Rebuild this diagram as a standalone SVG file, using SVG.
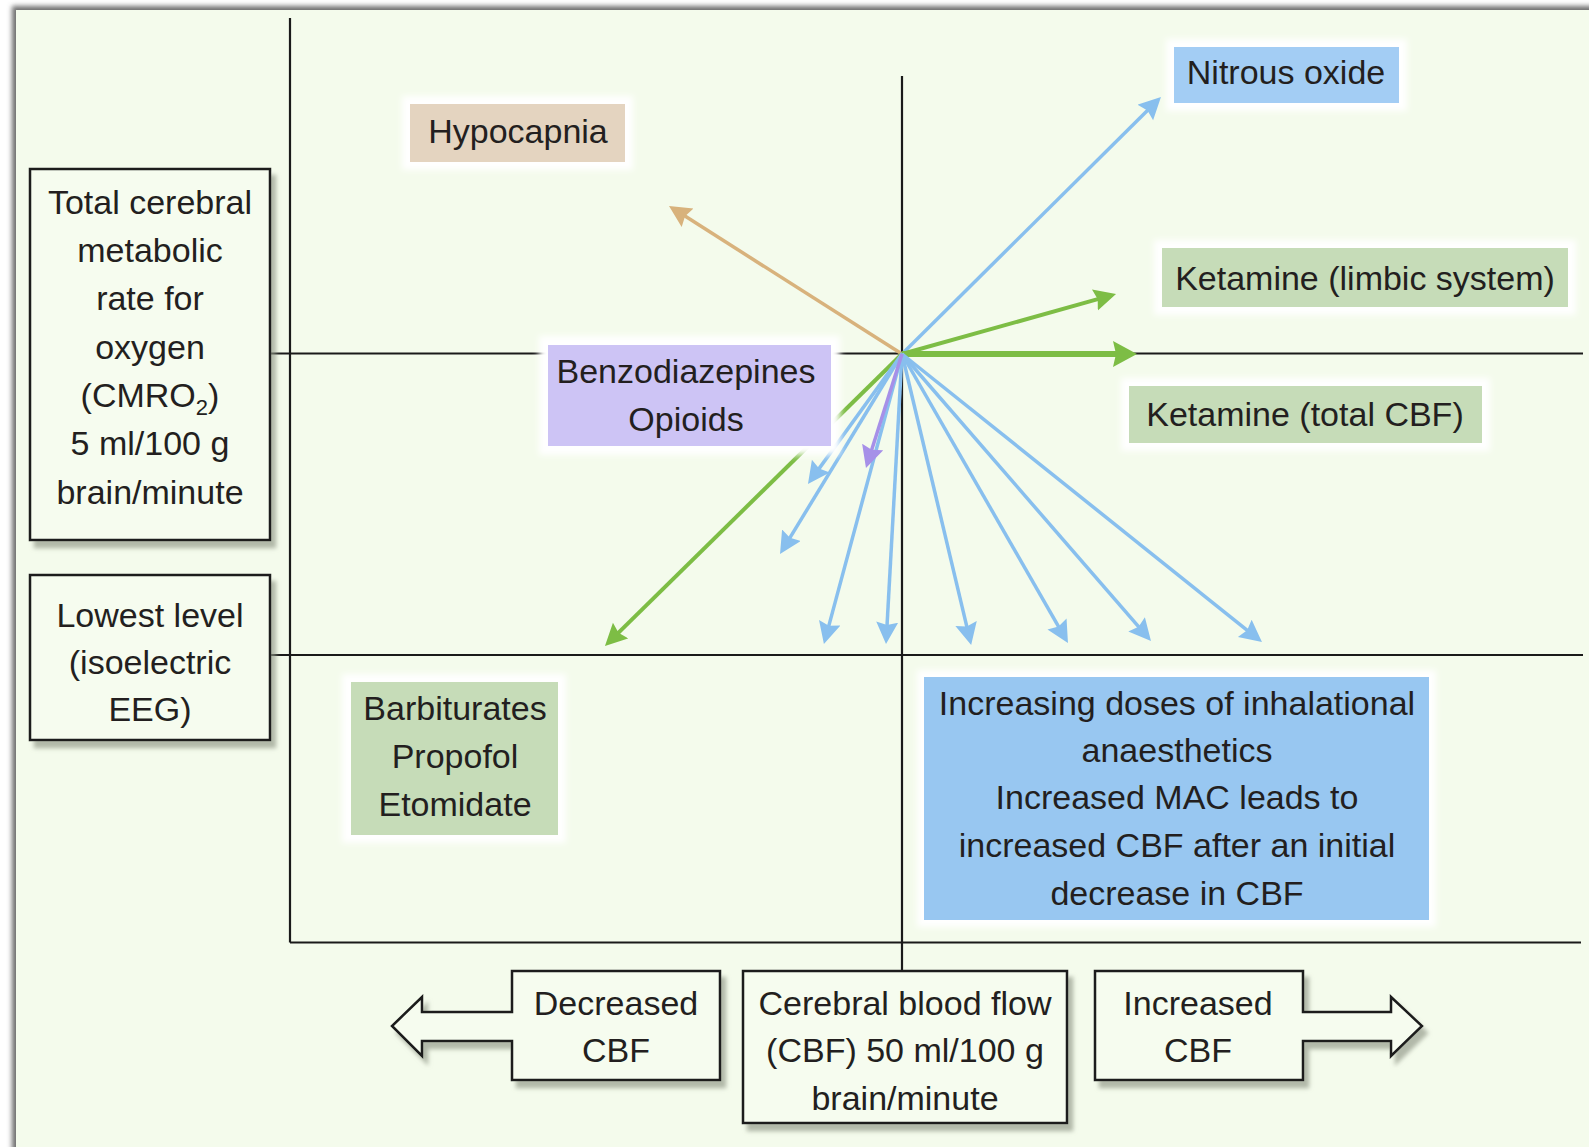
<svg xmlns="http://www.w3.org/2000/svg" width="1589" height="1147" viewBox="0 0 1589 1147">
<style>
  .t{font-family:"Liberation Sans",Arial,sans-serif;font-size:34px;fill:#231f20;text-anchor:middle}
  .ax{stroke:#1a1a1a;stroke-width:2.2;fill:none}
  .box{fill:#f6fcef;stroke:#1a1a1a;stroke-width:2.5}
  .halo{fill:#ffffff;filter:url(#blur3)}
  .blue{stroke:#88bfee;stroke-width:3.5;fill:none}
  .green{stroke:#7dbd45;stroke-width:4;fill:none}
  .tan{stroke:#d8b27c;stroke-width:3.5;fill:none}
  .purple{stroke:#a690e8;stroke-width:3.5;fill:none}
</style>
<defs>
  <filter id="blur3" x="-20%" y="-20%" width="140%" height="140%"><feGaussianBlur stdDeviation="3"/></filter>
  <filter id="frameblur" x="-5%" y="-5%" width="110%" height="110%"><feGaussianBlur stdDeviation="2.5"/></filter>
  <filter id="shadow" x="-10%" y="-10%" width="130%" height="130%">
    <feDropShadow dx="5" dy="7" stdDeviation="2" flood-color="#8e9585" flood-opacity="0.65"/>
  </filter>
  <marker id="mBlue" markerUnits="userSpaceOnUse" markerWidth="24" markerHeight="24" refX="4" refY="11" orient="auto">
    <path d="M0,0 L22,11 L0,22 L3,11 z" fill="#88bfee"/>
  </marker>
  <marker id="mTan" markerUnits="userSpaceOnUse" markerWidth="24" markerHeight="24" refX="4" refY="11" orient="auto">
    <path d="M0,0 L22,11 L0,22 L3,11 z" fill="#d8b27c"/>
  </marker>
  <marker id="mPurple" markerUnits="userSpaceOnUse" markerWidth="24" markerHeight="24" refX="4" refY="11" orient="auto">
    <path d="M0,0 L22,11 L0,22 L3,11 z" fill="#a690e8"/>
  </marker>
  <marker id="mGreen" markerUnits="userSpaceOnUse" markerWidth="24" markerHeight="24" refX="4" refY="11" orient="auto">
    <path d="M0,0 L22,11 L0,22 L3,11 z" fill="#7dbd45"/>
  </marker>
  <marker id="mGreenBig" markerUnits="userSpaceOnUse" markerWidth="26" markerHeight="28" refX="4" refY="13" orient="auto">
    <path d="M0,0 L24,13 L0,26 L3,13 z" fill="#7dbd45"/>
  </marker>
</defs>

<!-- frame -->
<rect x="0" y="0" width="1589" height="1147" fill="#ffffff"/>
<rect x="12" y="6" width="1600" height="1160" fill="#6e6e6e" filter="url(#frameblur)"/>
<rect x="16" y="10" width="1600" height="1160" fill="#f4fbec"/>

<!-- axes -->
<g id="axes">
  <line class="ax" x1="290" y1="18" x2="290" y2="942.5"/>
  <line class="ax" x1="270" y1="353.5" x2="1583" y2="353.5"/>
  <line class="ax" x1="270" y1="655" x2="1583" y2="655"/>
  <line class="ax" x1="290" y1="942.5" x2="1581" y2="942.5"/>
  <line class="ax" x1="902" y1="76" x2="902" y2="971"/>
</g>

<!-- connectors -->
<g id="connectors">
  <line class="tan" x1="902" y1="354" x2="684.2" y2="215.6" marker-end="url(#mTan)"/>
  <line class="blue" x1="902" y1="354" x2="1148.2" y2="109.7" marker-end="url(#mBlue)"/>
  <line class="green" x1="902" y1="354" x2="1098.7" y2="298.9" marker-end="url(#mGreen)"/>
  <line class="green" style="stroke-width:6" x1="902" y1="354" x2="1117" y2="354" marker-end="url(#mGreenBig)"/>
  <line class="green" x1="902" y1="354" x2="617.8" y2="633.4" marker-end="url(#mGreen)"/>
  <line class="blue" x1="902" y1="354" x2="818.5" y2="469.4" marker-end="url(#mBlue)"/>
  <line class="blue" x1="902" y1="354" x2="789.4" y2="538.6" marker-end="url(#mBlue)"/>
  <line class="blue" x1="902" y1="354" x2="828.6" y2="626.6" marker-end="url(#mBlue)"/>
  <line class="blue" x1="902" y1="354" x2="887" y2="626" marker-end="url(#mBlue)"/>
  <line class="blue" x1="902" y1="354" x2="967" y2="627.4" marker-end="url(#mBlue)"/>
  <line class="blue" x1="902" y1="354" x2="1059" y2="627.4" marker-end="url(#mBlue)"/>
  <line class="blue" x1="902" y1="354" x2="1139.2" y2="627.4" marker-end="url(#mBlue)"/>
  <line class="blue" x1="902" y1="354" x2="1247.9" y2="630.8" marker-end="url(#mBlue)"/>
  <line class="purple" x1="902" y1="354" x2="871.4" y2="450.8" marker-end="url(#mPurple)"/>
</g>

<!-- left axis boxes -->
<g id="cmro2">
  <rect class="box" x="30" y="169" width="240" height="371" filter="url(#shadow)"/>
  <text class="t" x="150" y="214">Total cerebral</text>
  <text class="t" x="150" y="262">metabolic</text>
  <text class="t" x="150" y="310">rate for</text>
  <text class="t" x="150" y="358.5">oxygen</text>
  <text class="t" x="150" y="407">(CMRO<tspan font-size="22" dy="8">2</tspan><tspan dy="-8">)</tspan></text>
  <text class="t" x="150" y="455">5 ml/100 g</text>
  <text class="t" x="150" y="503.5">brain/minute</text>
</g>
<g id="lowest">
  <rect class="box" x="30" y="575" width="240" height="165" filter="url(#shadow)"/>
  <text class="t" x="150" y="627">Lowest level</text>
  <text class="t" x="150" y="674">(isoelectric</text>
  <text class="t" x="150" y="721">EEG)</text>
</g>

<!-- labels -->
<g id="hypocapnia">
  <rect class="halo" x="402" y="96" width="231" height="74"/>
  <rect x="410" y="104" width="215" height="58" fill="#e4d4c0"/>
  <text class="t" x="518" y="143">Hypocapnia</text>
</g>
<g id="benzo">
  <rect class="halo" x="539" y="336" width="301" height="119"/>
  <rect x="548" y="345" width="283" height="101" fill="#cdc4f5"/>
  <text class="t" x="686" y="383">Benzodiazepines</text>
  <text class="t" x="686" y="431">Opioids</text>
</g>
<g id="nitrous">
  <rect class="halo" x="1166" y="39" width="241" height="72"/>
  <rect x="1174" y="47" width="225" height="56" fill="#a3cdf4"/>
  <text class="t" x="1286" y="84">Nitrous oxide</text>
</g>
<g id="ketamine-limbic">
  <rect class="halo" x="1154" y="240" width="422" height="75"/>
  <rect x="1162" y="248" width="406" height="59" fill="#c6dcb8"/>
  <text class="t" x="1365" y="290">Ketamine (limbic system)</text>
</g>
<g id="ketamine-total">
  <rect class="halo" x="1121" y="378" width="369" height="73"/>
  <rect x="1129" y="386" width="353" height="57" fill="#c6dcb8"/>
  <text class="t" x="1305" y="426">Ketamine (total CBF)</text>
</g>
<g id="barbiturates">
  <rect class="halo" x="342" y="674" width="224" height="169"/>
  <rect x="351" y="682" width="207" height="153" fill="#c6dcb8"/>
  <text class="t" x="455" y="720">Barbiturates</text>
  <text class="t" x="455" y="768">Propofol</text>
  <text class="t" x="455" y="816">Etomidate</text>
</g>
<g id="inhalational">
  <rect class="halo" x="917" y="670" width="519" height="257"/>
  <rect x="924" y="677" width="505" height="243" fill="#98c7f1"/>
  <text class="t" x="1177" y="715">Increasing doses of inhalational</text>
  <text class="t" x="1177" y="762">anaesthetics</text>
  <text class="t" x="1177" y="809">Increased MAC leads to</text>
  <text class="t" x="1177" y="857">increased CBF after an initial</text>
  <text class="t" x="1177" y="905">decrease in CBF</text>
</g>

<!-- bottom CBF boxes -->
<g id="decreased">
  <path class="box" filter="url(#shadow)" d="M512,971 L720,971 L720,1080 L512,1080 L512,1041 L422,1041 L422,1056 L392,1026 L422,997 L422,1012 L512,1012 Z"/>
  <text class="t" x="616" y="1015">Decreased</text>
  <text class="t" x="616" y="1062">CBF</text>
</g>
<g id="cbf">
  <rect class="box" x="743" y="971" width="324" height="152" filter="url(#shadow)"/>
  <text class="t" x="905" y="1015">Cerebral blood flow</text>
  <text class="t" x="905" y="1062">(CBF) 50 ml/100 g</text>
  <text class="t" x="905" y="1110">brain/minute</text>
</g>
<g id="increased">
  <path class="box" filter="url(#shadow)" d="M1095,971 L1303,971 L1303,1012 L1391,1012 L1391,997 L1422,1026 L1391,1056 L1391,1041 L1303,1041 L1303,1080 L1095,1080 Z"/>
  <text class="t" x="1198" y="1015">Increased</text>
  <text class="t" x="1198" y="1062">CBF</text>
</g>
</svg>
